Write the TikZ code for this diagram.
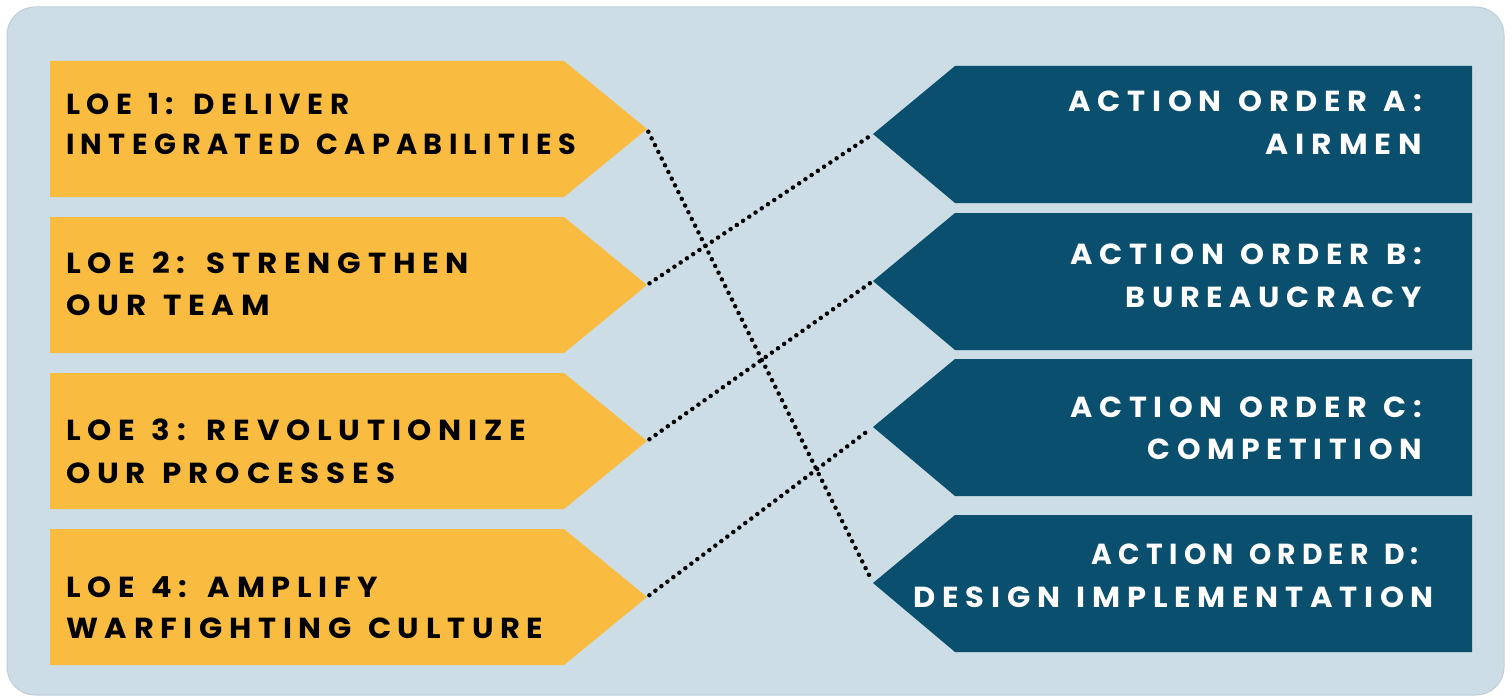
\documentclass[tikz,border=0pt]{standalone}
\usepackage{fontspec}
\newfontfamily\loefont{Poppins}[LetterSpace=22, WordSpace=1.25]
\definecolor{loeyellow}{HTML}{F9BC40}
\definecolor{aoblue}{HTML}{0A4F6D}
\definecolor{panel}{HTML}{CCDDE5}
\definecolor{paneledge}{HTML}{BFCFD7}
\newcommand{\fitw}[2]{\resizebox{#1pt}{\height}{#2}}
\begin{document}
\begin{tikzpicture}[x=1pt,y=-1pt,
  loe/.style={fill=loeyellow},
  ao/.style={fill=aoblue},
  txt/.style={inner sep=0pt, font=\loefont\bfseries\fontsize{29}{29}\selectfont},
  ltext/.style={txt, anchor=base west, text=black},
  rtext/.style={txt, anchor=base east, text=white},
  link/.style={line width=4.5pt, dash pattern=on 0pt off 7.5pt, line cap=round, black, shorten <=3pt, shorten >=3pt}]
\useasboundingbox (0,0) rectangle (1512,698);
\fill[white] (0,0) rectangle (1512,698);
\fill[panel, draw=paneledge, line width=1pt, rounded corners=28pt] (7,7) rectangle (1504,695);
% left boxes
\foreach \i/\t in {1/61,2/217,3/373,4/529}{
  \fill[loe] (50,\t) -- (564,\t) -- (647,\t+68) -- (564,\t+136) -- (50,\t+136) -- cycle;
  \coordinate (L\i) at (647,\t+68);
}
% right boxes
\foreach \n/\t in {A/66,B/213,C/359,D/515}{
  \fill[ao] (1472,\t) -- (955,\t) -- (873,\t+68) -- (955,\t+137) -- (1472,\t+137) -- cycle;
  \coordinate (R\n) at (873,\t+68);
}
% left texts
\node[ltext] (l1a) at (66,115) {\fitw{283}{LOE 1: DELIVER}};
\node[ltext] (l1b) at (66,154) {\fitw{510}{INTEGRATED CAPABILITIES}};
\node[ltext] (l2a) at (66,273) {\fitw{403}{LOE 2: STRENGTHEN}};
\node[ltext] (l2b) at (66,315) {\fitw{204}{OUR TEAM}};
\node[ltext] (l3a) at (66,440) {\fitw{460}{LOE 3: REVOLUTIONIZE}};
\node[ltext] (l3b) at (66,483) {\fitw{329}{OUR PROCESSES}};
\node[ltext] (l4a) at (66,597) {\fitw{312}{LOE 4: AMPLIFY}};
\node[ltext] (l4b) at (66,638) {\fitw{477}{WARFIGHTING CULTURE}};
% right texts
\node[rtext] (rAa) at (1422,112) {\fitw{353}{ACTION ORDER A:}};
\node[rtext] (rAb) at (1422,154) {\fitw{156}{AIRMEN}};
\node[rtext] (rBa) at (1422,264) {\fitw{351}{ACTION ORDER B:}};
\node[rtext] (rBb) at (1422,307) {\fitw{296}{BUREAUCRACY}};
\node[rtext] (rCa) at (1422,417) {\fitw{351}{ACTION ORDER C:}};
\node[rtext] (rCb) at (1422,459) {\fitw{274}{COMPETITION}};
\node[rtext] (rDa) at (1419,564) {\fitw{327}{ACTION ORDER D:}};
\node[rtext] (rDb) at (1434,607) {\fitw{520}{DESIGN IMPLEMENTATION}};
% links
\draw[link] (L1) -- (RD);
\draw[link] (L2) -- (RA);
\draw[link] (L3) -- (RB);
\draw[link] (L4) -- (RC);
\end{tikzpicture}
\end{document}
